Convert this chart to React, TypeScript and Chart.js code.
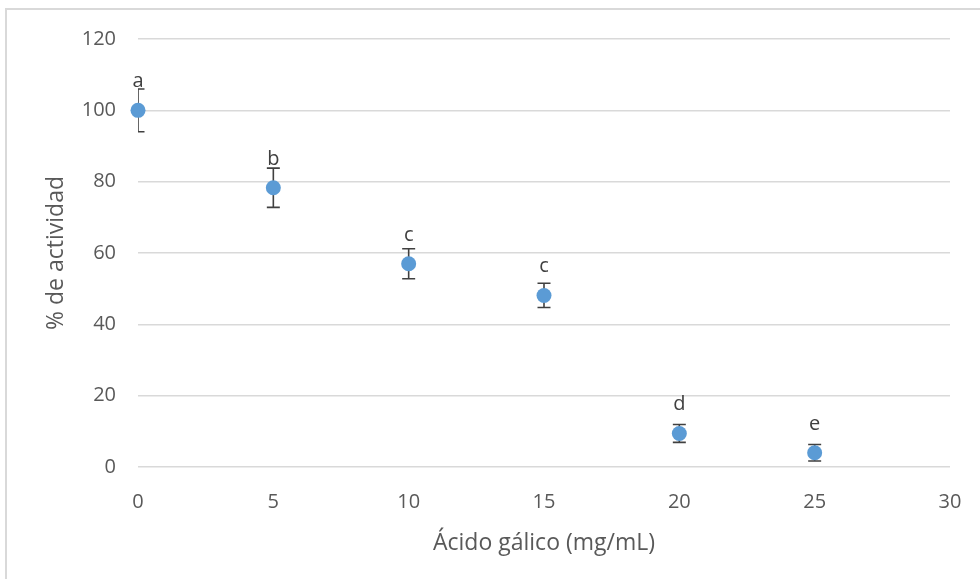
import React, { useEffect, useRef } from "react";
import { Chart, registerables } from "chart.js";

Chart.register(...registerables);

const concentrations = [0, 5, 10, 15, 20, 25];
const activity = [100, 78.3, 57.0, 48.1, 9.4, 4.0];
const errors = [6.0, 5.5, 4.2, 3.4, 2.5, 2.3];
const letters = ["a", "b", "c", "c", "d", "e"];
const xTicks = [0, 5, 10, 15, 20, 25, 30];
const yTicks = [0, 20, 40, 60, 80, 100, 120];

const FONT = "'Open Sans', sans-serif";
const TEXT = "#595959";

const errorBarPlugin = {
  id: "errorBars",
  beforeDatasetsDraw(chart: any) {
    const { ctx, chartArea, scales } = chart;
    ctx.save();
    ctx.beginPath();
    ctx.rect(chartArea.left, chartArea.top, chartArea.right - chartArea.left, chartArea.bottom - chartArea.top);
    ctx.clip();
    ctx.strokeStyle = "#404040";
    ctx.lineWidth = 1.6;
    concentrations.forEach((x, i) => {
      const px = scales.x.getPixelForValue(x);
      const top = scales.y.getPixelForValue(activity[i] + errors[i]);
      const bot = scales.y.getPixelForValue(activity[i] - errors[i]);
      ctx.beginPath();
      ctx.moveTo(px, top);
      ctx.lineTo(px, bot);
      ctx.moveTo(px - 6.5, top);
      ctx.lineTo(px + 6.5, top);
      ctx.moveTo(px - 6.5, bot);
      ctx.lineTo(px + 6.5, bot);
      ctx.stroke();
    });
    ctx.restore();
  },
  afterDatasetsDraw(chart: any) {
    const { ctx, scales } = chart;
    ctx.save();
    ctx.fillStyle = "#404040";
    ctx.font = `20px ${FONT}`;
    ctx.textAlign = "center";
    ctx.textBaseline = "alphabetic";
    concentrations.forEach((x, i) => {
      const px = scales.x.getPixelForValue(x);
      const py = scales.y.getPixelForValue(activity[i]);
      ctx.fillText(letters[i], px, py - 23);
    });
    ctx.restore();
  },
};

export default function App() {
  const ref = useRef<HTMLCanvasElement>(null);
  useEffect(() => {
    if (!ref.current) return;
    const chart = new Chart(ref.current, {
      type: "scatter",
      data: {
        datasets: [
          {
            data: concentrations.map((x, i) => ({ x, y: activity[i] })),
            backgroundColor: "#5B9BD5",
            borderColor: "#5B9BD5",
            pointRadius: 7.5,
            pointHoverRadius: 7.5,
            borderWidth: 0,
            clip: false,
          },
        ],
      },
      options: {
        animation: false,
        responsive: false,
        events: [],
        layout: { padding: { left: 0, right: 30, top: 39, bottom: 0 } },
        plugins: { legend: { display: false }, tooltip: { enabled: false } },
        scales: {
          x: {
            type: "linear",
            min: 0,
            max: 30,
            afterBuildTicks: (s: any) => {
              s.ticks = xTicks.map((v) => ({ value: v }));
            },
            afterFit: (s: any) => {
              s.height = 579 - 467;
              s.paddingRight = 12;
              s.paddingLeft = 0;
            },
            grid: { display: false, drawTicks: false },
            border: { display: false },
            ticks: { color: TEXT, font: { family: FONT, size: 20 }, padding: 23 },
            title: {
              display: true,
              text: "Ácido gálico (mg/mL)",
              color: TEXT,
              font: { family: FONT, size: 23 },
              padding: { top: 0, bottom: 22 },
            },
          },
          y: {
            type: "linear",
            min: 0,
            max: 120,
            afterBuildTicks: (s: any) => {
              s.ticks = yTicks.map((v) => ({ value: v }));
            },
            afterFit: (s: any) => {
              s.width = 138;
            },
            grid: { color: "#d9d9d9", lineWidth: 1.5, drawTicks: false },
            border: { display: false },
            ticks: { color: TEXT, font: { family: FONT, size: 20 }, padding: 22 },
            title: {
              display: true,
              text: "% de actividad",
              color: TEXT,
              font: { family: FONT, size: 23 },
              padding: { top: 43, bottom: 0 },
            },
          },
        },
      },
      plugins: [errorBarPlugin],
    } as any);
    return () => chart.destroy();
  }, []);

  return (
    <div style={{ position: "fixed", left: 0, top: 0, width: 980, height: 579, background: "#fff", overflow: "hidden" }}>
      <div
        style={{
          position: "absolute",
          left: 5,
          top: 8,
          width: 1000,
          height: 600,
          borderTop: "2px solid #d9d9d9",
          borderLeft: "2px solid #d9d9d9",
        }}
      />
      <canvas ref={ref} width={980} height={579} style={{ position: "absolute", left: 0, top: 0 }} />
    </div>
  );
}
